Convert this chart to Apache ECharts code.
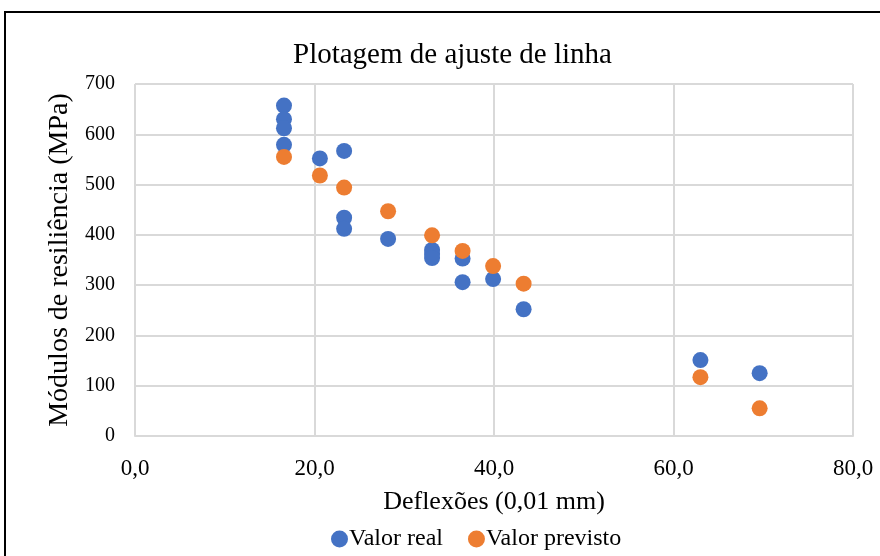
<!DOCTYPE html>
<html>
<head>
<meta charset="utf-8">
<script src="https://cdn.jsdelivr.net/npm/echarts@6/dist/echarts.min.js"></script>
<style>
  html, body { margin: 0; padding: 0; background: #fff; }
  #main { width: 880px; height: 556px; }
</style>
</head>
<body>
<div id="main"></div>
<script>
// dados
var realX = [16.6, 16.6, 16.6, 16.6, 20.6, 23.3, 23.3, 23.3, 28.2, 33.1, 33.1, 33.1, 36.5, 36.5, 39.9, 43.3, 63.0, 69.6];
var realY = [657, 630, 612, 579, 552, 567, 434, 412, 392, 370, 362, 354, 353, 306, 312, 252, 151, 125];
var prevX = [16.6, 20.6, 23.3, 28.2, 33.1, 36.5, 39.9, 43.3, 63.0, 69.6];
var prevY = [555, 518, 494, 447, 399, 368, 338, 303, 117, 55];

function pares(xs, ys) {
    return xs.map(function (x, i) { return [x, ys[i]]; });
}

var fonte = '"Liberation Serif", "DejaVu Serif", serif';
var myChart = echarts.init(document.getElementById('main'));

var option = {
    animation: false,
    textStyle: { fontFamily: fonte },
    title: {
        text: 'Plotagem de ajuste de linha',
        left: 288,
        top: 36,
        textStyle: { fontFamily: fonte, fontSize: 29, fontWeight: 'normal', color: '#000' }
    },
    legend: {
        data: ['Valor real', 'Valor previsto'],
        top: 522,
        left: 326,
        itemWidth: 17,
        itemHeight: 17,
        itemGap: 25,
        icon: 'circle',
        textStyle: { fontFamily: fonte, fontSize: 24, color: '#000', padding: [0, 0, 0, -4] }
    },
    grid: { left: 135, right: 27, top: 84, bottom: 120 },
    xAxis: {
        type: 'value',
        min: 0, max: 80, interval: 20,
        name: 'Deflexões (0,01 mm)',
        nameLocation: 'middle',
        nameGap: 53,
        nameTextStyle: { fontFamily: fonte, fontSize: 26, color: '#000' },
        axisLine: { show: true, lineStyle: { color: '#d9d9d9', width: 2 } },
        axisTick: { show: false },
        axisLabel: {
            fontFamily: fonte, fontSize: 23, color: '#000', margin: 21,
            formatter: function (v) { return v.toFixed(1).replace('.', ','); }
        },
        splitLine: { show: true, lineStyle: { color: '#d9d9d9', width: 2 } }
    },
    yAxis: {
        type: 'value',
        min: 0, max: 700, interval: 100,
        name: 'Módulos de resiliência (MPa)',
        nameLocation: 'middle',
        nameGap: 53,
        nameTextStyle: { fontFamily: fonte, fontSize: 28, color: '#000' },
        axisLine: { show: false },
        axisTick: { show: false },
        axisLabel: { fontFamily: fonte, fontSize: 20, color: '#000', margin: 20 },
        splitLine: { show: true, lineStyle: { color: '#d9d9d9', width: 2 } }
    },
    graphic: [{
        type: 'rect',
        shape: { x: 5, y: 12, width: 900, height: 600 },
        style: { fill: 'none', stroke: '#000', lineWidth: 2 },
        silent: true
    }],
    series: [{
        name: 'Valor real',
        type: 'scatter',
        symbolSize: 16,
        itemStyle: { color: '#4472C4', opacity: 1 },
        data: pares(realX, realY)
    }, {
        name: 'Valor previsto',
        type: 'scatter',
        symbolSize: 16,
        itemStyle: { color: '#ED7D31', opacity: 1 },
        data: pares(prevX, prevY)
    }]
};
myChart.setOption(option);
</script>
</body>
</html>
